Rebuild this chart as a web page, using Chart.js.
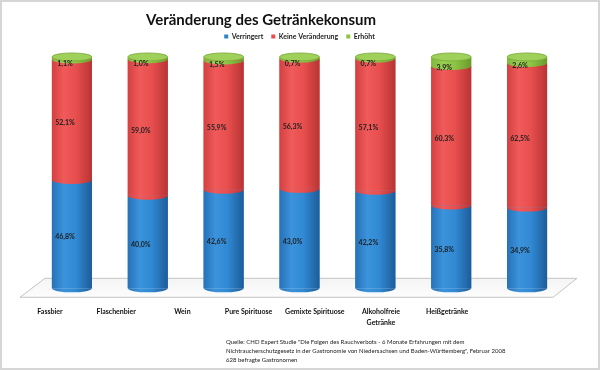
<!DOCTYPE html>
<html>
<head>
<meta charset="utf-8">
<script src="https://cdn.jsdelivr.net/npm/chart.js@4/dist/chart.umd.min.js"></script>
<style>
html,body{margin:0;padding:0;background:#fff;}
#wrap{width:600px;height:370px;position:relative;}
</style>
</head>
<body>
<div id="wrap"><canvas id="c" width="600" height="370"></canvas></div>
<script>
const titleText = 'Veränderung des Getränkekonsum';
const categories = ['Fassbier', 'Flaschenbier', 'Wein', 'Pure Spirituose', 'Gemixte Spirituose', 'Alkoholfreie Getränke', 'Heißgetränke'];
const tickLabels = [['Fassbier'], ['Flaschenbier'], ['Wein'], ['Pure Spirituose'], ['Gemixte Spirituose'], ['Alkoholfreie', 'Getränke'], ['Heißgetränke']];
const seriesNames = ['Verringert', 'Keine Veränderung', 'Erhöht'];
const verringert = [46.8, 40.0, 42.6, 43.0, 42.2, 35.8, 34.9];
const keineVeraenderung = [52.1, 59.0, 55.9, 56.3, 57.1, 60.3, 62.5];
const erhoeht = [1.1, 1.0, 1.5, 0.7, 0.7, 3.9, 2.6];
const sourceLines = [
  'Quelle: CHD Expert Studie "Die Folgen des Rauchverbots - 6 Monate Erfahrungen mit dem',
  'Nichtraucherschutzgesetz in der Gastronomie von Niedersachsen und Baden-Württemberg", Februar 2008',
  '628 befragte Gastronomen'
];

const FONT = 'Lato, "Open Sans", sans-serif';
const shades = [
  {solid:'#2e84cc', stops:['#2672b8','#3b93dc','#3089d2','#1d5c9a'], top:'#5aa6e4'},
  {solid:'#e84c4c', stops:['#d44040','#f05a5a','#e84e4e','#b83434'], top:'#f07a7a'},
  {solid:'#8cc43f', stops:['#80b83a','#9bce52','#8cc444','#6a9a2c'], top:'#9fd05a'}
];

function fmt(v){ return v.toFixed(1).replace('.', ',') + '%'; }

const cylPlugin = {
  id: 'cyl',
  beforeDraw(chart){
    const {ctx, width, height} = chart;
    ctx.save();
    ctx.fillStyle = '#fff';
    ctx.fillRect(0, 0, width, height);
    ctx.strokeStyle = '#d6d6d6';
    ctx.lineWidth = 2;
    ctx.strokeRect(1, 1, width - 2, height - 2);
    ctx.restore();
  },
  beforeDatasetsDraw(chart){
    const {ctx, chartArea:a} = chart;
    const b = a.bottom;
    ctx.save();
    ctx.beginPath();
    ctx.moveTo(a.left + 11, b - 10);
    ctx.lineTo(a.right + 12, b - 10);
    ctx.lineTo(a.right - 12, b + 9);
    ctx.lineTo(a.left - 14, b + 9);
    ctx.closePath();
    const g = ctx.createLinearGradient(0, b - 10, 0, b + 9);
    g.addColorStop(0, '#f4f4f4');
    g.addColorStop(1, '#fdfdfd');
    ctx.fillStyle = g;
    ctx.fill();
    ctx.strokeStyle = '#c4c4c4';
    ctx.lineWidth = 1;
    ctx.stroke();
    ctx.restore();
  },
  afterDatasetsDraw(chart){
    const {ctx} = chart;
    const n = chart.data.datasets.length;
    ctx.save();
    for (let d = 0; d < n; d++) {
      const meta = chart.getDatasetMeta(d);
      const sh = shades[d];
      meta.data.forEach((el) => {
        const w = el.width, x0 = el.x - w/2, x1 = el.x + w/2;
        const top = el.y, base = el.base;
        const rx = w/2, ry = 4;
        const g = ctx.createLinearGradient(x0, 0, x1, 0);
        g.addColorStop(0, sh.stops[0]);
        g.addColorStop(0.3, sh.stops[1]);
        g.addColorStop(0.6, sh.stops[2]);
        g.addColorStop(1, sh.stops[3]);
        ctx.fillStyle = g;
        ctx.fillRect(x0, top, w, base - top);
        ctx.beginPath();
        ctx.ellipse(el.x, base, rx, ry, 0, 0, Math.PI);
        ctx.fill();
        if (d === n - 1) {
          ctx.beginPath();
          ctx.ellipse(el.x, top, rx, ry, 0, 0, Math.PI * 2);
          ctx.fillStyle = sh.top;
          ctx.fill();
          ctx.strokeStyle = '#7aa83a';
          ctx.lineWidth = 0.8;
          ctx.stroke();
        }
      });
    }
    ctx.font = 'bold 7px ' + FONT;
    ctx.fillStyle = '#1e1e1e';
    ctx.textAlign = 'center';
    ctx.textBaseline = 'middle';
    for (let d = 0; d < n; d++) {
      const meta = chart.getDatasetMeta(d);
      const vals = chart.data.datasets[d].data;
      meta.data.forEach((el, i) => {
        let y = (el.y + el.base) / 2 + 3;
        if (d === n - 1) y = (el.y + el.base) / 2 + 6;
        ctx.fillText(fmt(vals[i]), el.x - 7, y);
      });
    }
    ctx.restore();
  },
  afterDraw(chart){
    const {ctx} = chart;
    ctx.save();
    ctx.fillStyle = '#111';
    ctx.font = 'bold 15px ' + FONT;
    ctx.textAlign = 'center';
    ctx.textBaseline = 'middle';
    ctx.fillText(titleText, 261, 20);
    ctx.font = '6px ' + FONT;
    ctx.textAlign = 'left';
    ctx.fillStyle = '#222';
    sourceLines.forEach((s, i) => ctx.fillText(s, 226, 342 + i * 9));
    ctx.restore();
  }
};

const ctx = document.getElementById('c').getContext('2d');
new Chart(ctx, {
  type: 'bar',
  data: {
    labels: categories,
    datasets: [
      {label: seriesNames[0], data: verringert, backgroundColor: shades[0].solid, borderWidth: 0},
      {label: seriesNames[1], data: keineVeraenderung, backgroundColor: shades[1].solid, borderWidth: 0},
      {label: seriesNames[2], data: erhoeht, backgroundColor: shades[2].solid, borderWidth: 0}
    ]
  },
  options: {
    responsive: false,
    animation: false,
    devicePixelRatio: 1,
    layout: {padding: {top: 25, left: 34, right: 35, bottom: 24}},
    datasets: {bar: {barPercentage: 0.528, categoryPercentage: 1}},
    scales: {
      x: {stacked: true, display: false},
      x2: {
        type: 'linear', position: 'bottom', min: -0.2417, max: 7.78, bounds: 'data', offset: false,
        grid: {display: false, drawTicks: false, offset: false}, border: {display: false},
        afterBuildTicks: (scale) => { scale.ticks = tickLabels.map((_, i) => ({value: i})); },
        ticks: {
          autoSkip: false, maxRotation: 0, minRotation: 0,
          padding: 18, color: '#111',
          font: {family: FONT, size: 7, weight: 'bold', lineHeight: 1.55},
          callback: (v) => tickLabels[v] || ''
        }
      },
      y: {stacked: true, display: false, min: 0, max: 103}
    },
    plugins: {
      title: {display: false},
      tooltip: {enabled: false},
      legend: {
        position: 'top',
        labels: {boxWidth: 4, boxHeight: 4, padding: 8, color: '#222',
          font: {family: FONT, size: 7, weight: 'bold'}}
      }
    }
  },
  plugins: [cylPlugin]
});
</script>
</body>
</html>
